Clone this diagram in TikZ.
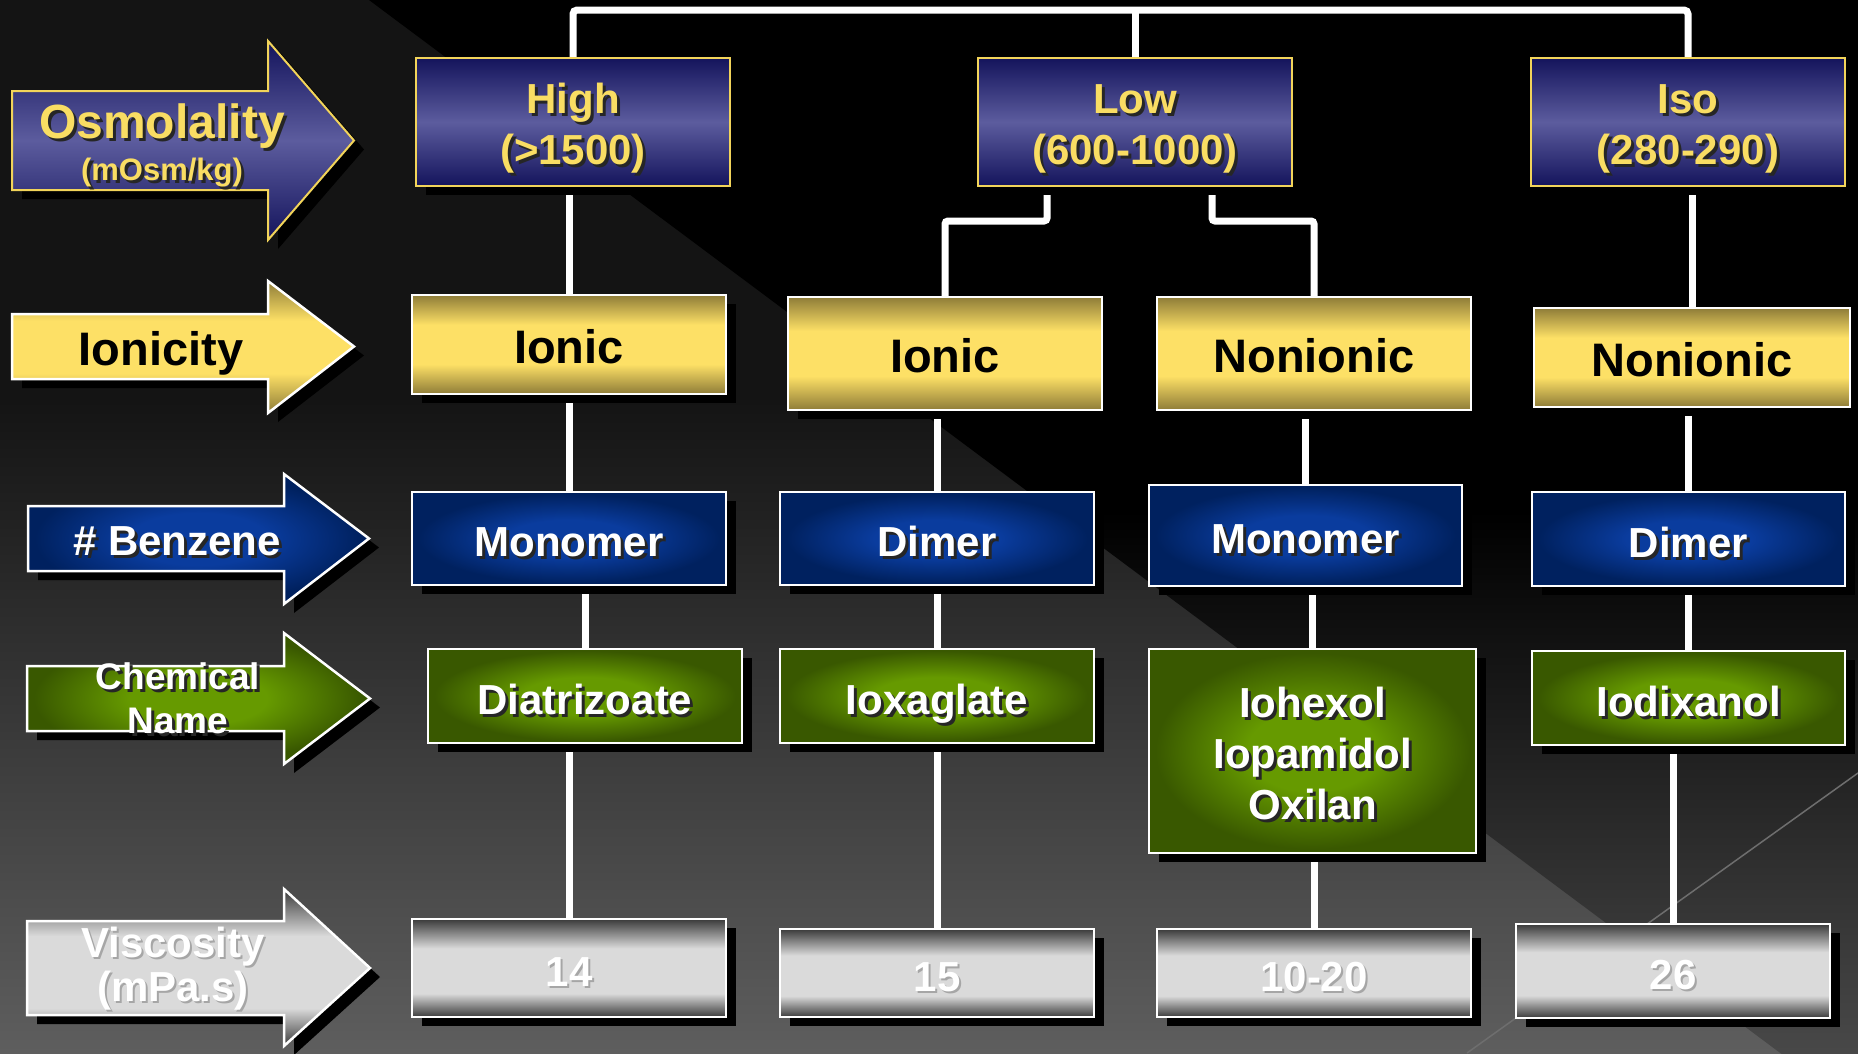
\documentclass[tikz,border=0pt]{standalone}
\usepackage{fontspec}
\setmainfont{Liberation Sans}
\usetikzlibrary{calc}
\definecolor{ylw}{HTML}{F9DD63}
\definecolor{osmline}{HTML}{F2D45A}
\definecolor{osmdark}{HTML}{14145C}
\definecolor{osmmid}{HTML}{5C5C9E}
\definecolor{ydark}{HTML}{8E7C38}
\definecolor{ymid}{HTML}{FDE066}
\definecolor{bdark}{HTML}{00215F}
\definecolor{bmid}{HTML}{0A3C9E}
\definecolor{gdark}{HTML}{395800}
\definecolor{gmid}{HTML}{669A00}
\definecolor{sdark}{HTML}{3A3A3A}
\definecolor{smid}{HTML}{DADADA}
\definecolor{bgtop}{HTML}{141414}
\definecolor{bgbot}{HTML}{5E5E5E}
\definecolor{blkbot}{HTML}{505050}
\definecolor{thinline}{HTML}{6E6E6E}
\pgfdeclareverticalshading{osmgrad}{100bp}{color(0bp)=(osmdark); color(25bp)=(osmdark); color(50bp)=(osmmid); color(75bp)=(osmdark); color(100bp)=(osmdark)}
\pgfdeclareverticalshading{ygrad}{100bp}{color(0bp)=(ydark); color(25bp)=(ydark); color(40bp)=(ymid); color(60bp)=(ymid); color(75bp)=(ydark); color(100bp)=(ydark)}
\pgfdeclareverticalshading{sgrad}{100bp}{color(0bp)=(sdark); color(25bp)=(sdark); color(37bp)=(smid); color(60bp)=(smid); color(75bp)=(sdark); color(100bp)=(sdark)}
\pgfdeclareradialshading{bglow}{\pgfpoint{0bp}{0bp}}{color(0bp)=(bmid); color(10bp)=(bmid); color(24bp)=(bdark); color(50bp)=(bdark)}
\pgfdeclareradialshading{gglow}{\pgfpoint{0bp}{0bp}}{color(0bp)=(gmid); color(10bp)=(gmid); color(24bp)=(gdark); color(50bp)=(gdark)}
\pgfdeclareverticalshading{bgshade}{100bp}{color(0bp)=(bgbot); color(25bp)=(bgbot); color(56bp)=(bgtop); color(75bp)=(bgtop); color(100bp)=(bgtop)}
\pgfdeclareverticalshading{blkshade}{100bp}{color(0bp)=(blkbot); color(25bp)=(blkbot); color(52bp)=(black); color(75bp)=(black); color(100bp)=(black)}
\pgfdeclarelayer{back}
\pgfdeclarelayer{lines}
\pgfsetlayers{back,lines,main}
% text with a dark drop shadow
\newcommand{\sht}[1]{\leavevmode\rlap{\kern3pt\raisebox{-3pt}{\color{black!85}#1}}#1}
% text with a light shadow (silver boxes)
\newcommand{\shs}[1]{\leavevmode\rlap{\kern2pt\raisebox{-2pt}{\color{black!35}#1}}#1}
% lines stacked, last baseline placed #1/2 below the node centre
\newcommand{\ml}[2]{\raisebox{0pt}[#1][0pt]{\begin{tabular}[b]{@{}c@{}}#2\end{tabular}}}
\tikzset{
  shadowed/.style={preaction={fill=black, transform canvas={shift={(10,9)}}}},
  box/.style={rectangle, inner sep=0pt, shade, shadowed,
    font=\bfseries\fontsize{42}{51}\selectfont, line width=2.5pt, draw=white},
  osmbox/.style={box, draw=osmline, line width=2pt, shading=osmgrad, text=ylw},
  ionbox/.style={box, shading=ygrad, text=black, font=\bfseries\fontsize{47}{51}\selectfont},
  benbox/.style={box, shading=bglow, text=white},
  chembox/.style={box, shading=gglow, text=white},
  visbox/.style={box, shading=sgrad, text=white},
  conn/.style={draw=white, line width=7pt},
  arr/.style={shadowed, line width=2.5pt, draw=white, shade},
  lbl/.style={inner sep=0pt, font=\bfseries\fontsize{42}{43}\selectfont}
}
\begin{document}
\begin{tikzpicture}[x=1pt,y=-1pt]
\useasboundingbox (0,0) rectangle (1858,1053);
% background
\begin{pgfonlayer}{back}
  \shade[shading=bgshade] (0,0) rectangle (1858,1053);
  \begin{scope}
    \clip (0,0) rectangle (1858,1053);
    \shade[shading=blkshade] (369,0) -- (1858,0) -- (1858,1111) -- cycle;
    \draw[thinline, line width=1.5pt] (1858,773) -- (1467,1053);
  \end{scope}
\end{pgfonlayer}

% left arrows
\path[arr, draw=osmline, line width=2pt, shading=osmgrad] (12,91) -- (268,91) -- (268,41) -- (354,140.5) -- (268,240) -- (268,190) -- (12,190) -- cycle;
\path[arr, shading=ygrad] (12,314) -- (268,314) -- (268,281) -- (354,346.5) -- (268,413) -- (268,379) -- (12,379) -- cycle;
\path[arr, shading=bglow] (28,506) -- (284,506) -- (284,474) -- (369,538.5) -- (284,604) -- (284,571) -- (28,571) -- cycle;
\path[arr, shading=gglow] (27,666) -- (284,666) -- (284,633) -- (370,698.5) -- (284,764) -- (284,731) -- (27,731) -- cycle;
\path[arr, shading=sgrad] (27,921) -- (284,921) -- (284,889) -- (370,968) -- (284,1046) -- (284,1015) -- (27,1015) -- cycle;

% arrow labels (node position = baseline of last line)
\node[lbl, text=ylw, font=\bfseries\fontsize{31}{41}\selectfont] (osmT) at (162,180)
  {\ml{0pt}{{\fontsize{48}{48}\selectfont\sht{Osmolality}}\\\sht{(mOsm/kg)}}};
\node[lbl, text=black, font=\bfseries\fontsize{47}{51}\selectfont] (ionT) at (161,365) {\ml{0pt}{Ionicity}};
\node[lbl, text=white] (benT) at (177,555) {\ml{0pt}{\sht{\# Benzene}}};
\node[lbl, text=white, font=\bfseries\fontsize{37}{44}\selectfont] (chemT) at (178,733) {\ml{0pt}{\sht{Chemical}\\\sht{Name}}};
\node[lbl, text=white] (viscT) at (173,1001) {\ml{0pt}{\shs{Viscosity}\\\shs{(mPa.s)}}};

% row 1: osmolality
\node[osmbox, minimum width=314pt, minimum height=128pt] (high) at (573,122) {\ml{85pt}{\sht{High}\\\sht{(>1500)}}};
\node[osmbox, minimum width=314pt, minimum height=128pt] (low) at (1135,122) {\ml{85pt}{\sht{Low}\\\sht{(600-1000)}}};
\node[osmbox, minimum width=314pt, minimum height=128pt] (iso) at (1688,122) {\ml{85pt}{\sht{Iso}\\\sht{(280-290)}}};
% row 2: ionicity
\node[ionbox, minimum width=314pt, minimum height=99pt] (hion) at (569,344.5) {\ml{37pt}{Ionic}};
\node[ionbox, minimum width=314pt, minimum height=113pt] (lion) at (945,353.5) {\ml{37pt}{Ionic}};
\node[ionbox, minimum width=314pt, minimum height=113pt] (lnon) at (1314,353.5) {\ml{37pt}{Nonionic}};
\node[ionbox, minimum width=316pt, minimum height=99pt] (inon) at (1692,357.5) {\ml{37pt}{Nonionic}};
% row 3: benzene
\node[benbox, minimum width=314pt, minimum height=93pt] (hmono) at (569,538.5) {\ml{36pt}{\sht{Monomer}}};
\node[benbox, minimum width=314pt, minimum height=93pt] (ldim) at (937,538.5) {\ml{36pt}{\sht{Dimer}}};
\node[benbox, minimum width=313pt, minimum height=101pt] (lmono) at (1305.5,535.5) {\ml{36pt}{\sht{Monomer}}};
\node[benbox, minimum width=313pt, minimum height=94pt] (idim) at (1688.5,539) {\ml{36pt}{\sht{Dimer}}};
% row 4: chemical name
\node[chembox, minimum width=314pt, minimum height=94pt] (diat) at (585,696) {\ml{36pt}{\sht{Diatrizoate}}};
\node[chembox, minimum width=314pt, minimum height=94pt] (ioxa) at (937,696) {\ml{36pt}{\sht{Ioxaglate}}};
\node[chembox, minimum width=327pt, minimum height=204pt] (iohex) at (1312.5,751) {\ml{137pt}{\sht{Iohexol}\\\sht{Iopamidol}\\\sht{Oxilan}}};
\node[chembox, minimum width=313pt, minimum height=94pt] (iodix) at (1688.5,698) {\ml{36pt}{\sht{Iodixanol}}};
% row 5: viscosity
\node[visbox, minimum width=314pt, minimum height=98pt] (v14) at (569,968) {\ml{36pt}{\shs{14}}};
\node[visbox, minimum width=314pt, minimum height=88pt] (v15) at (937,973) {\ml{36pt}{\shs{15}}};
\node[visbox, minimum width=314pt, minimum height=88pt] (v1020) at (1314,973) {\ml{36pt}{\shs{10-20}}};
\node[visbox, minimum width=314pt, minimum height=94pt] (v26) at (1673,971) {\ml{36pt}{\shs{26}}};

% connectors
\begin{pgfonlayer}{lines}
  \coordinate (bus) at (1135,10);
  \draw[conn, rounded corners=4pt] (high.north) |- (bus) -| (iso.north);
  \draw[conn] (low.north) -- (bus);
  \coordinate (lowL) at ($(low.south)+(-88,0)$);
  \coordinate (lowR) at ($(low.south)+(77,0)$);
  \draw[conn] (high.south -| hion.north) -- (hion.north);
  \draw[conn, rounded corners=3pt] (lowL) -- ++(0,34) -| (lion.north);
  \draw[conn, rounded corners=3pt] (lowR) -- ++(0,34) -| (lnon.north);
  \draw[conn] (iso.south -| inon.north) -- (inon.north);
  \draw[conn] (hion.south) -- (hmono.north);
  \draw[conn] (lion.south -| ldim.north) -- (ldim.north);
  \draw[conn] (lnon.south -| lmono.north) -- (lmono.north);
  \draw[conn] (inon.south -| idim.north) -- (idim.north);
  \draw[conn] (hmono.south -| diat.north) -- (diat.north);
  \draw[conn] (ldim.south) -- (ioxa.north);
  \draw[conn] (lmono.south -| iohex.north) -- (iohex.north);
  \draw[conn] (idim.south) -- (iodix.north);
  \draw[conn] (diat.south -| v14.north) -- (v14.north);
  \draw[conn] (ioxa.south) -- (v15.north);
  \draw[conn] (iohex.south -| v1020.north) -- (v1020.north);
  \draw[conn] (iodix.south -| v26.north) -- (v26.north);
\end{pgfonlayer}
\end{tikzpicture}
\end{document}
